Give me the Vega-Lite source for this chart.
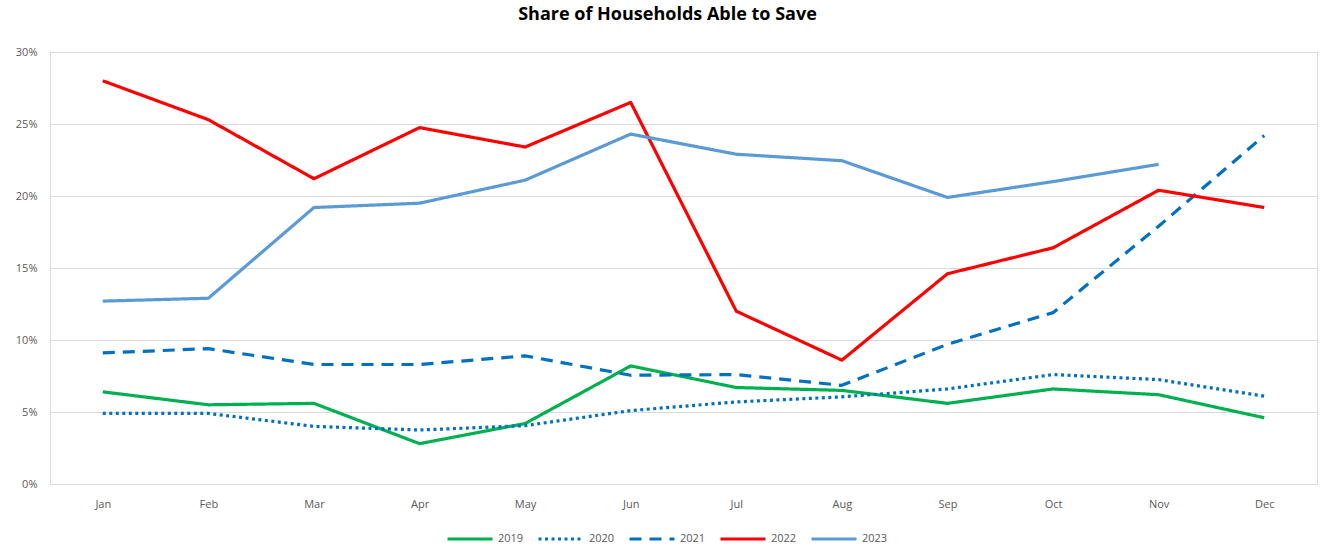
{
  "$schema": "https://vega.github.io/schema/vega-lite/v6.json",
  "autosize": "none",
  "width": 1267,
  "height": 432,
  "padding": {"left": 50, "top": 52, "right": 7, "bottom": 62},
  "background": "white",
  "title": {"text": "Share of Households Able to Save", "fontSize": 18, "font": "Open Sans", "fontWeight": "bold", "color": "#000000", "anchor": "middle", "dx": -16, "offset": 22},
  "data": {"values": [
    {"m":"Jan","y":"2019","v":0.064},{"m":"Feb","y":"2019","v":0.055},{"m":"Mar","y":"2019","v":0.056},{"m":"Apr","y":"2019","v":0.028},{"m":"May","y":"2019","v":0.042},{"m":"Jun","y":"2019","v":0.082},{"m":"Jul","y":"2019","v":0.067},{"m":"Aug","y":"2019","v":0.065},{"m":"Sep","y":"2019","v":0.056},{"m":"Oct","y":"2019","v":0.066},{"m":"Nov","y":"2019","v":0.062},{"m":"Dec","y":"2019","v":0.046},
    {"m":"Jan","y":"2020","v":0.049},{"m":"Feb","y":"2020","v":0.049},{"m":"Mar","y":"2020","v":0.040},{"m":"Apr","y":"2020","v":0.0375},{"m":"May","y":"2020","v":0.0405},{"m":"Jun","y":"2020","v":0.051},{"m":"Jul","y":"2020","v":0.057},{"m":"Aug","y":"2020","v":0.0605},{"m":"Sep","y":"2020","v":0.066},{"m":"Oct","y":"2020","v":0.076},{"m":"Nov","y":"2020","v":0.0725},{"m":"Dec","y":"2020","v":0.061},
    {"m":"Jan","y":"2021","v":0.091},{"m":"Feb","y":"2021","v":0.094},{"m":"Mar","y":"2021","v":0.083},{"m":"Apr","y":"2021","v":0.083},{"m":"May","y":"2021","v":0.089},{"m":"Jun","y":"2021","v":0.0755},{"m":"Jul","y":"2021","v":0.076},{"m":"Aug","y":"2021","v":0.0685},{"m":"Sep","y":"2021","v":0.097},{"m":"Oct","y":"2021","v":0.119},{"m":"Nov","y":"2021","v":0.179},{"m":"Dec","y":"2021","v":0.242},
    {"m":"Jan","y":"2022","v":0.280},{"m":"Feb","y":"2022","v":0.253},{"m":"Mar","y":"2022","v":0.212},{"m":"Apr","y":"2022","v":0.2475},{"m":"May","y":"2022","v":0.234},{"m":"Jun","y":"2022","v":0.265},{"m":"Jul","y":"2022","v":0.120},{"m":"Aug","y":"2022","v":0.086},{"m":"Sep","y":"2022","v":0.146},{"m":"Oct","y":"2022","v":0.164},{"m":"Nov","y":"2022","v":0.204},{"m":"Dec","y":"2022","v":0.192},
    {"m":"Jan","y":"2023","v":0.127},{"m":"Feb","y":"2023","v":0.129},{"m":"Mar","y":"2023","v":0.192},{"m":"Apr","y":"2023","v":0.195},{"m":"May","y":"2023","v":0.211},{"m":"Jun","y":"2023","v":0.243},{"m":"Jul","y":"2023","v":0.229},{"m":"Aug","y":"2023","v":0.2245},{"m":"Sep","y":"2023","v":0.199},{"m":"Oct","y":"2023","v":0.210},{"m":"Nov","y":"2023","v":0.222}
  ]},
  "mark": {"type": "line", "strokeWidth": 3.2, "strokeCap": "butt", "strokeJoin": "round"},
  "encoding": {
    "x": {"field": "m", "type": "ordinal", "sort": ["Jan","Feb","Mar","Apr","May","Jun","Jul","Aug","Sep","Oct","Nov","Dec"],
      "scale": {"type": "point", "padding": 0.5},
      "axis": {"title": null, "labelAngle": 0, "domain": false, "ticks": false, "grid": false, "labelFont": "Open Sans", "labelFontSize": 11, "labelColor": "#595959", "labelPadding": 14}},
    "y": {"field": "v", "type": "quantitative",
      "scale": {"domain": [0, 0.3], "nice": false},
      "axis": {"title": null, "format": ".0%", "values": [0,0.05,0.1,0.15,0.2,0.25,0.3], "domain": false, "ticks": false, "gridColor": "#d9d9d9", "gridWidth": 1.2, "labelFont": "Open Sans", "labelFontSize": 11, "labelColor": "#595959", "labelPadding": 13}},
    "color": {"field": "y", "type": "nominal",
      "scale": {"domain": ["2019","2020","2021","2022","2023"], "range": ["#00B050","#0070C0","#0070C0","#FF0000","#5B9BD5"]},
      "legend": {"title": null, "orient": "none", "legendX": 396, "legendY": 463, "direction": "horizontal", "symbolType": "stroke", "symbolSize": 2025, "symbolStrokeWidth": 3, "labelFont": "Open Sans", "labelFontSize": 11, "labelColor": "#595959", "columnPadding": 8, "symbolOffset": 0}},
    "strokeDash": {"field": "y", "type": "nominal",
      "scale": {"domain": ["2019","2020","2021","2022","2023"], "range": [[1,0],[3,3.5],[12,8],[1,0],[1,0]]},
      "legend": null}
  }
}
